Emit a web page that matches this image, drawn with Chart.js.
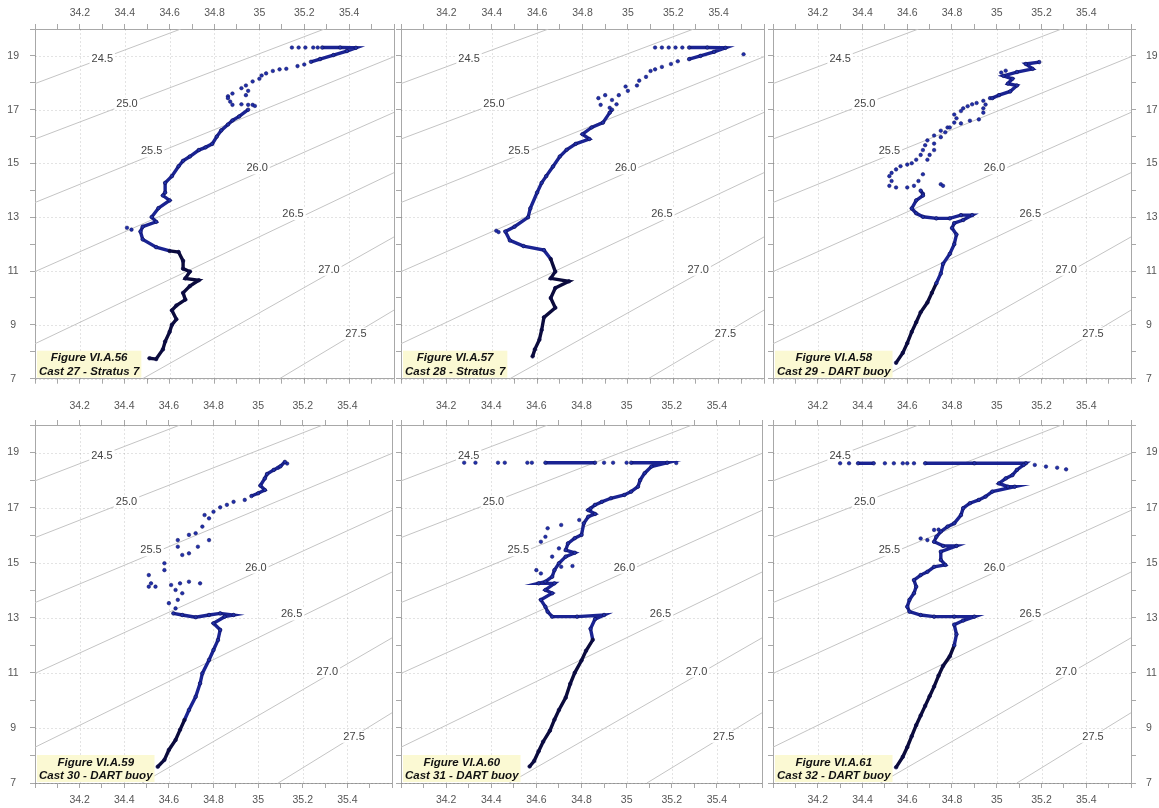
<!DOCTYPE html>
<html><head><meta charset="utf-8">
<script src="https://cdn.jsdelivr.net/npm/chart.js@4.4.1/dist/chart.umd.min.js"></script>
<style>
html,body{margin:0;padding:0;background:#fff;width:1159px;height:808px;overflow:hidden}
body{position:relative}
canvas{position:absolute}
</style></head><body>
<script>
// ---------- axis ticks ----------
const salTicks = [34.2, 34.4, 34.6, 34.8, 35, 35.2, 35.4];
const tempTicks = [7, 9, 11, 13, 15, 17, 19];

// ---------- isopycnals (sigma-t): [salinity, temperature] ----------
const isoNames = ['24.5', '25.0', '25.5', '26.0', '26.5', '27.0', '27.5'];
const iso245 = [[34.0, 17.97], [34.65, 20.0]];
const iso250 = [[34.0, 15.91], [35.29, 20.0]];
const iso255 = [[34.0, 13.55], [35.6, 18.97]];
const iso260 = [[34.0, 10.98], [35.6, 16.9]];
const iso265 = [[34.0, 8.30], [35.6, 14.66]];
const iso270 = [[34.48, 7.0], [35.6, 12.27]];
const iso275 = [[35.09, 7.0], [35.6, 9.55]];
const isoLabelAt = [[34.30, 18.88], [34.41, 17.22], [34.52, 15.45], [34.99, 14.82], [35.15, 13.12], [35.31, 11.05], [35.43, 8.68]];

// ---------- casts: [salinity, temperature]; dense runs and loose dots ----------
const cast27Surface = [[35.28,19.31],[35.36,19.31],[35.43,19.30],[35.39,19.18],[35.33,19.03],[35.27,18.88],[35.23,18.78]];
const cast27Deep = [[34.95,17.0],[34.91,16.75],[34.88,16.6],[34.86,16.45],[34.83,16.23],[34.81,16.0],[34.79,15.73],[34.76,15.6],[34.73,15.5],[34.69,15.26],[34.66,15.1],[34.64,14.9],[34.61,14.53],[34.58,14.28],[34.58,13.92],[34.57,13.81],[34.6,13.63],[34.55,13.34],[34.52,13.01],[34.54,12.83],[34.48,12.65],[34.47,12.47],[34.48,12.18],[34.54,11.89],[34.6,11.75],[34.64,11.71],[34.66,11.38],[34.66,11.09],[34.69,10.98],[34.67,10.73],[34.73,10.66],[34.69,10.44],[34.66,10.19],[34.67,9.94],[34.63,9.72],[34.61,9.54],[34.63,9.21],[34.61,9.0],[34.6,8.74],[34.58,8.38],[34.57,8.09],[34.54,7.73],[34.51,7.76]];
const cast27Dots = [[35.145,19.31],[35.175,19.31],[35.205,19.31],[35.24,19.31],[35.26,19.31],[35.2,18.68],[35.17,18.62],[35.12,18.52],[35.09,18.5],[35.06,18.44],[35.03,18.35],[35.01,18.27],[35.0,18.15],[34.97,18.05],[34.94,17.9],[34.92,17.8],[34.88,17.6],[34.86,17.5],[34.86,17.43],[34.87,17.3],[34.88,17.18],[34.92,17.2],[34.95,17.18],[34.97,17.18],[34.94,17.54],[34.95,17.7],[34.98,17.14],[34.41,12.61],[34.43,12.54]];

const cast28Surface = [[35.27,19.31],[35.35,19.31],[35.43,19.30],[35.38,19.15],[35.32,19.0],[35.27,18.88]];
const cast28Deep = [[34.93,17.0],[34.92,16.89],[34.89,16.52],[34.84,16.34],[34.8,16.09],[34.83,15.91],[34.77,15.73],[34.73,15.51],[34.7,15.26],[34.67,14.89],[34.64,14.53],[34.62,14.28],[34.6,13.92],[34.57,13.33],[34.56,13.0],[34.5,12.65],[34.46,12.47],[34.48,12.14],[34.54,11.93],[34.63,11.78],[34.66,11.45],[34.68,10.98],[34.66,10.73],[34.74,10.62],[34.68,10.37],[34.66,10.0],[34.68,9.64],[34.63,9.28],[34.62,8.81],[34.61,8.45],[34.59,8.09],[34.58,7.83]];
const cast28Dots = [[35.12,19.31],[35.15,19.31],[35.18,19.31],[35.21,19.31],[35.24,19.31],[35.51,19.06],[35.22,18.8],[35.19,18.7],[35.15,18.59],[35.12,18.5],[35.1,18.44],[35.08,18.22],[35.05,18.08],[35.04,17.9],[34.99,17.86],[35.0,17.7],[34.96,17.54],[34.93,17.36],[34.9,17.54],[34.87,17.43],[34.88,17.18],[34.92,17.07],[34.95,17.2],[34.42,12.5],[34.43,12.45]];

const cast29Surface = [[35.19,18.77],[35.13,18.7],[35.16,18.52],[35.09,18.4],[35.03,18.26],[35.07,18.15],[35.05,17.97],[35.09,17.9],[35.06,17.68],[35.01,17.54],[34.98,17.43]];
const cast29Deep = [[34.66,13.99],[34.67,13.87],[34.67,13.81],[34.64,13.63],[34.62,13.33],[34.64,13.15],[34.67,13.02],[34.73,12.96],[34.79,12.96],[34.84,13.08],[34.89,13.08],[34.85,12.9],[34.81,12.78],[34.8,12.6],[34.82,12.36],[34.81,12.0],[34.79,11.64],[34.76,11.27],[34.75,10.91],[34.73,10.55],[34.71,10.19],[34.69,9.83],[34.66,9.47],[34.64,9.1],[34.62,8.74],[34.6,8.32],[34.58,7.96],[34.55,7.59]];
const cast29Dots = [[35.04,18.45],[35.02,18.38],[34.97,17.43],[34.94,17.33],[34.91,17.25],[34.89,17.2],[34.87,17.13],[34.85,17.05],[34.84,16.95],[34.81,16.82],[34.82,16.68],[34.81,16.52],[34.78,16.34],[34.75,16.22],[34.72,16.04],[34.69,15.86],[34.68,15.68],[34.67,15.5],[34.66,15.32],[34.64,15.14],[34.62,15.01],[34.6,14.96],[34.57,14.9],[34.55,14.78],[34.53,14.65],[34.52,14.53],[34.53,14.35],[34.52,14.17],[34.55,14.11],[34.6,14.11],[34.63,14.17],
 [34.95,17.19],[34.94,17.05],[34.94,16.89],[34.92,16.64],[34.88,16.59],[34.84,16.49],[34.79,16.34],[34.77,16.16],[34.75,15.98],[34.72,15.74],[34.72,15.5],[34.7,15.32],[34.69,15.14],[34.67,14.6],[34.65,14.35],[34.75,14.23],[34.76,14.17]];

const cast30Surface = [[35.12,18.66],[35.1,18.5],[35.07,18.37],[35.04,18.22],[35.03,18.06],[35.01,17.8],[35.03,17.64],[35.0,17.52],[34.97,17.42]];
const cast30Deep = [[34.62,13.16],[34.66,13.1],[34.72,13.02],[34.78,13.1],[34.83,13.16],[34.89,13.1],[34.85,13.04],[34.8,12.8],[34.83,12.56],[34.82,12.19],[34.8,11.83],[34.78,11.47],[34.75,10.98],[34.74,10.62],[34.72,10.13],[34.69,9.65],[34.67,9.29],[34.65,8.93],[34.63,8.56],[34.6,8.2],[34.58,7.84],[34.55,7.59]];
const cast30Dots = [[35.13,18.6],[35.09,18.45],[34.94,17.28],[34.89,17.21],[34.86,17.1],[34.83,17.01],[34.8,16.85],[34.76,16.73],[34.78,16.61],[34.75,16.31],[34.72,16.07],[34.69,16.01],[34.64,15.82],[34.78,15.82],[34.73,15.58],[34.69,15.34],[34.66,15.28],[34.64,15.58],[34.58,14.98],[34.58,14.73],[34.51,14.55],[34.52,14.25],[34.51,14.13],[34.54,14.13],[34.61,14.19],[34.65,14.25],[34.69,14.31],[34.74,14.25],[34.63,14.01],[34.66,13.89],[34.64,13.65],[34.6,13.53],[34.63,13.34]];

const cast31Skin = [[34.64,18.63],[34.86,18.63]];
const cast31Surface = [[35.02,18.63],[35.18,18.63],[35.11,18.49],[35.08,18.25],[35.06,18.0],[35.05,17.76],[35.02,17.58],[34.99,17.46],[34.93,17.34],[34.89,17.21],[34.86,17.1],[34.84,16.97],[34.83,16.91],[34.86,16.77],[34.83,16.67],[34.81,16.43],[34.8,16.01],[34.77,15.89],[34.74,15.7],[34.73,15.46],[34.77,15.36],[34.73,15.22],[34.7,14.98],[34.68,14.73],[34.67,14.49],[34.64,14.31],[34.61,14.25],[34.68,14.25],[34.64,14.01],[34.67,13.89],[34.62,13.65],[34.64,13.4],[34.65,13.22],[34.67,13.04],[34.78,13.04],[34.9,13.1],[34.86,12.95],[34.84,12.6],[34.85,12.2],[34.82,11.8],[34.8,11.45],[34.77,11.0],[34.75,10.6],[34.73,10.1],[34.7,9.65],[34.68,9.3],[34.66,8.9],[34.63,8.5],[34.61,8.15],[34.59,7.8],[34.57,7.6]];
const cast31Dots = [[34.28,18.63],[34.33,18.63],[34.43,18.63],[34.46,18.63],[34.56,18.63],[34.58,18.63],[34.9,18.63],[34.94,18.63],[35.0,18.63],[35.22,18.62],
 [34.79,16.55],[34.71,16.37],[34.65,16.25],[34.64,15.94],[34.62,15.76],[34.7,15.52],[34.67,15.22],[34.6,14.73],[34.62,14.61],[34.71,14.85],[34.76,14.88]];

const cast32Skin = [[34.38,18.61],[34.45,18.61]];
const cast32Surface = [[34.68,18.61],[34.9,18.61],[35.13,18.61],[35.12,18.55],[35.09,18.37],[35.07,18.18],[35.04,18.06],[35.01,17.88],[35.05,17.76],[35.08,17.76],[34.98,17.58],[34.95,17.4],[34.92,17.28],[34.88,17.16],[34.85,16.98],[34.84,16.73],[34.81,16.43],[34.78,16.31],[34.75,16.13],[34.73,15.94],[34.72,15.76],[34.76,15.61],[34.82,15.61],[34.75,15.4],[34.75,15.1],[34.77,14.92],[34.72,14.85],[34.69,14.67],[34.66,14.55],[34.63,14.37],[34.64,14.13],[34.63,13.89],[34.61,13.65],[34.6,13.4],[34.61,13.22],[34.66,13.1],[34.72,13.04],[34.81,13.04],[34.9,13.04],[34.85,12.9],[34.81,12.75],[34.82,12.4],[34.81,12.0],[34.79,11.6],[34.76,11.25],[34.74,10.9],[34.72,10.5],[34.7,10.15],[34.68,9.8],[34.66,9.45],[34.64,9.1],[34.62,8.7],[34.6,8.3],[34.58,7.95],[34.55,7.57]];
const cast32Dots = [[34.30,18.61],[34.34,18.61],[34.5,18.61],[34.54,18.61],[34.58,18.61],[34.6,18.61],[34.63,18.61],[35.17,18.55],[35.22,18.49],[35.27,18.45],[35.31,18.39],[34.66,15.88],[34.72,16.19],[34.69,15.82],[34.74,16.2]];

const captions = [
  ['Figure VI.A.56', 'Cast 27 - Stratus 7'],
  ['Figure VI.A.57', 'Cast 28 - Stratus 7'],
  ['Figure VI.A.58', 'Cast 29 - DART buoy'],
  ['Figure VI.A.59', 'Cast 30 - DART buoy'],
  ['Figure VI.A.60', 'Cast 31 - DART buoy'],
  ['Figure VI.A.61', 'Cast 32 - DART buoy']
];
const traces = [[cast27Surface, cast27Deep], [cast28Surface, cast28Deep], [cast29Surface, cast29Deep],
                [cast30Surface, cast30Deep], [cast31Skin, cast31Surface], [cast32Skin, cast32Surface]];
const dotSets = [cast27Dots, cast28Dots, cast29Dots, cast30Dots, cast31Dots, cast32Dots];
const isoLines = [iso245, iso250, iso255, iso260, iso265, iso270, iso275];

// ---------- layout and styling (positions/styles only) ----------
const cols = [
  {left: 0, width: 400, yl: 35, yr: 4, leftLab: true, rightLab: false},
  {left: 391, width: 379, yl: 10, yr: 4, leftLab: false, rightLab: false},
  {left: 763, width: 396, yl: 10, yr: 28, leftLab: false, rightLab: true}
];
const rows = [
  {top: 0, height: 396, xt: 29, xb: 8, bottomLab: false, topPad: 5},
  {top: 397, height: 411, xt: 28, xb: 25, bottomLab: true, topPad: 8}
];
const darkBelow = [11.8, 11.6, 10.5, 9.3, 12.3, 12.0];
const BLUE_LINE = '#1a2392', BLUE_PT = '#2030aa', DARK = '#0b0b3c';

const FONT = '"Liberation Sans", Arial, Helvetica, sans-serif';
const isMajorX = v => salTicks.some(t => Math.abs(t - v) < 1e-6);
const isMajorY = v => tempTicks.some(t => Math.abs(t - v) < 1e-6);
const salLabel = v => isMajorX(v) ? String(Math.round(v * 10) / 10) : '';
const tempLabel = v => isMajorY(v) ? String(Math.round(v)) : '';
const toXY = arr => arr.map(([s, t]) => ({x: s, y: t}));

const gridPlugin = {
  id: 'majorGrid',
  beforeDatasetsDraw(chart) {
    const ctx = chart.ctx, xs = chart.scales.x, ys = chart.scales.y, a = chart.chartArea;
    ctx.save();
    ctx.strokeStyle = 'rgba(0,0,0,0.11)';
    ctx.lineWidth = 1;
    ctx.setLineDash([2, 2]);
    salTicks.forEach(v => {
      const px = Math.round(xs.getPixelForValue(v)) + 0.5;
      ctx.beginPath(); ctx.moveTo(px, a.top); ctx.lineTo(px, a.bottom); ctx.stroke();
    });
    tempTicks.forEach(v => {
      const py = Math.round(ys.getPixelForValue(v)) + 0.5;
      ctx.beginPath(); ctx.moveTo(a.left, py); ctx.lineTo(a.right, py); ctx.stroke();
    });
    ctx.restore();
  }
};
const isoLabelPlugin = {
  id: 'isoLabels',
  afterDatasetDraw(chart, args) {
    if (args.index !== chart.options.plugins.isoLabels.firstIso) return;
    const ctx = chart.ctx, xs = chart.scales.x, ys = chart.scales.y, a = chart.chartArea;
    ctx.save();
    ctx.beginPath(); ctx.rect(a.left, a.top, a.right - a.left, a.bottom - a.top); ctx.clip();
    ctx.font = '11px ' + FONT;
    ctx.textAlign = 'center'; ctx.textBaseline = 'middle';
    isoLabelAt.forEach(([s, t], i) => {
      const px = xs.getPixelForValue(s), py = ys.getPixelForValue(t);
      const w = ctx.measureText(isoNames[i]).width;
      ctx.fillStyle = '#ffffff';
      ctx.fillRect(px - w / 2 - 2, py - 6, w + 4, 12);
      ctx.fillStyle = '#444444';
      ctx.fillText(isoNames[i], px, py);
    });
    ctx.restore();
  }
};
const captionPlugin = {
  id: 'caption',
  afterDraw(chart) {
    const cap = chart.options.plugins.caption.lines;
    const ctx = chart.ctx, a = chart.chartArea;
    ctx.save();
    ctx.font = 'italic bold 11.5px ' + FONT;
    const w = Math.max(...cap.map(s => ctx.measureText(s).width)) + 4;
    const x0 = a.left + 2, y0 = a.bottom - 28;
    ctx.fillStyle = '#fbf9d3';
    ctx.fillRect(x0, y0, w, 27);
    ctx.fillStyle = '#111111';
    ctx.textAlign = 'center'; ctx.textBaseline = 'middle';
    ctx.fillText(cap[0], x0 + w / 2, y0 + 7.5);
    ctx.fillText(cap[1], x0 + w / 2, y0 + 21);
    ctx.restore();
  }
};

function build(idx) {
  const col = cols[idx % 3], row = rows[Math.floor(idx / 3)];
  const thr = darkBelow[idx];
  const cv = document.createElement('canvas');
  cv.width = col.width; cv.height = row.height;
  cv.style.left = col.left + 'px'; cv.style.top = row.top + 'px';
  cv.style.width = col.width + 'px'; cv.style.height = row.height + 'px';
  document.body.appendChild(cv);
  const tickFont = {family: FONT, size: 10.5};
  const tickCol = '#555555';
  const axisCol = '#a8a8a8';
  const ptCol = c => (c.parsed && c.parsed.y < thr) ? DARK : BLUE_PT;
  const datasets = [];
  traces[idx].forEach(seg => datasets.push({data: toXY(seg), showLine: true, borderColor: BLUE_LINE, borderWidth: 3.4,
     segment: {borderColor: c => ((c.p0.parsed.y + c.p1.parsed.y) / 2 < thr) ? DARK : BLUE_LINE},
     pointRadius: 1.8, pointBackgroundColor: ptCol, pointBorderColor: '#0c0c50', pointBorderWidth: 0.6, order: 0}));
  datasets.push({data: toXY(dotSets[idx]), showLine: false, pointRadius: 1.8,
     pointBackgroundColor: ptCol, pointBorderColor: '#101060', pointBorderWidth: 0.5, order: 0});
  const firstIso = datasets.length;
  isoLines.forEach(l => datasets.push({data: toXY(l), showLine: true, borderColor: '#c4c4c4', borderWidth: 1, pointRadius: 0, order: 2}));
  const xBase = {type: 'linear', min: 34, max: 35.6, border: {color: axisCol}};
  const yBase = {type: 'linear', min: 7, max: 20, border: {color: axisCol}};
  new Chart(cv, {
    type: 'scatter',
    data: {datasets},
    options: {
      responsive: false, animation: false, events: [],
      layout: {padding: 0},
      plugins: {legend: {display: false}, tooltip: {enabled: false}, caption: {lines: captions[idx]}, isoLabels: {firstIso}},
      scales: {
        x: Object.assign({}, xBase, {position: 'top',
          ticks: {stepSize: 0.1, autoSkip: false, maxRotation: 0, padding: row.topPad, font: tickFont, color: tickCol, callback: salLabel},
          grid: {drawOnChartArea: false, tickColor: axisCol, tickLength: 5, drawTicks: true},
          afterFit: s => { s.height = row.xt; }}),
        xb: Object.assign({}, xBase, {position: 'bottom',
          ticks: {stepSize: 0.1, autoSkip: false, maxRotation: 0, padding: 6, font: tickFont, color: tickCol, callback: v => row.bottomLab ? salLabel(v) : ''},
          grid: {drawOnChartArea: false, tickColor: axisCol, tickLength: 5},
          afterFit: s => { s.height = row.xb; }}),
        y: Object.assign({}, yBase, {position: 'left',
          ticks: {stepSize: 1, autoSkip: false, padding: 11, crossAlign: 'center', font: tickFont, color: tickCol, callback: v => col.leftLab ? tempLabel(v) : ''},
          grid: {drawOnChartArea: false, tickColor: axisCol, tickLength: 5},
          afterFit: s => { s.width = col.yl; }}),
        yr: Object.assign({}, yBase, {position: 'right',
          ticks: {stepSize: 1, autoSkip: false, padding: 10, font: tickFont, color: tickCol, callback: v => col.rightLab ? tempLabel(v) : ''},
          grid: {drawOnChartArea: false, drawTicks: col.rightLab, tickColor: axisCol, tickLength: 5},
          afterFit: s => { s.width = col.yr; }})
      }
    },
    plugins: [gridPlugin, isoLabelPlugin, captionPlugin]
  });
}
for (let i = 0; i < 6; i++) build(i);
</script>
</body></html>
